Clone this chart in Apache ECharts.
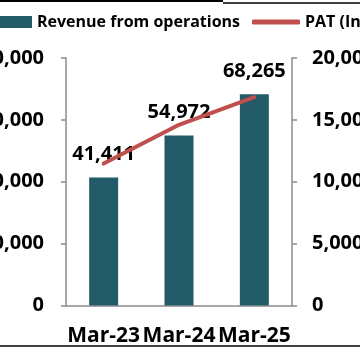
<!DOCTYPE html>
<html>
<head>
<meta charset="utf-8">
<script src="https://cdn.jsdelivr.net/npm/echarts@6/dist/echarts.min.js"></script>
<style>
	html, body { margin: 0; padding: 0; background: #fff; }
	#chart { width: 360px; height: 352px; }
</style>
</head>
<body>
<div id="chart"></div>
<script>
// ---------- DATA ----------
const categories = ['Mar-23', 'Mar-24', 'Mar-25'];
const revenue = [41411, 54972, 68265];
const pat = [11470, 14600, 16830];

const barColor = '#235a68';
const lineColor = '#c0504d';
const axisColor = '#8c8c8c';
const font = 'Open Sans';

function fmt(v) {
	return Number(v).toLocaleString('en-US');
}

var chart = echarts.init(document.getElementById('chart'));

let options = {
	animation: false,
	textStyle: { fontFamily: font },
	grid: {
		left: 66,
		right: 68,
		top: 58,
		height: 247.5,
		containLabel: false,
		outerBoundsMode: 'none'
	},
	legend: [
		{
			left: -13,
			top: 9,
			itemWidth: 40,
			itemHeight: 12,
			data: [{ name: 'Revenue from operations', icon: 'rect' }],
			textStyle: { fontFamily: font, fontWeight: 'bold', fontSize: 16, color: '#000' }
		},
		{
			left: 247,
			top: 9,
			itemWidth: 48,
			itemHeight: 5,
			data: [{ name: 'PAT (In Cr)', icon: 'roundRect' }],
			textStyle: { fontFamily: font, fontWeight: 'bold', fontSize: 16, color: '#000' }
		}
	],
	xAxis: {
		type: 'category',
		data: categories,
		axisLine: { lineStyle: { color: axisColor, width: 1.5 } },
		axisTick: { length: 6, lineStyle: { color: axisColor, width: 1.5 } },
		axisLabel: {
			interval: 0,
			hideOverlap: false,
			margin: 20,
			fontFamily: font,
			fontWeight: 'bold',
			fontSize: 21,
			color: '#000'
		}
	},
	yAxis: [
		{
			type: 'value',
			min: 0,
			max: 80000,
			interval: 20000,
			splitLine: { show: false },
			axisLine: { show: true, lineStyle: { color: axisColor, width: 1.5 } },
			axisTick: { show: true, length: 5, lineStyle: { color: axisColor, width: 1.5 } },
			axisLabel: {
				margin: 22,
				formatter: fmt,
				fontFamily: font,
				fontWeight: 'bold',
				fontSize: 20,
				color: '#000'
			}
		},
		{
			type: 'value',
			min: 0,
			max: 20000,
			interval: 5000,
			splitLine: { show: false },
			axisLine: { show: true, lineStyle: { color: axisColor, width: 1.5 } },
			axisTick: { show: true, length: 5, lineStyle: { color: axisColor, width: 1.5 } },
			axisLabel: {
				margin: 20,
				formatter: fmt,
				fontFamily: font,
				fontWeight: 'bold',
				fontSize: 20,
				color: '#000'
			}
		}
	],
	series: [
		{
			name: 'Revenue from operations',
			type: 'bar',
			barWidth: 29,
			yAxisIndex: 0,
			itemStyle: { color: barColor },
			label: {
				show: true,
				position: 'top',
				distance: 13,
				formatter: function (p) { return fmt(p.value); },
				fontFamily: font,
				fontWeight: 'bold',
				fontSize: 20,
				color: '#000'
			},
			data: revenue
		},
		{
			name: 'PAT (In Cr)',
			type: 'line',
			yAxisIndex: 1,
			z: 5,
			symbol: 'none',
			lineStyle: { color: lineColor, width: 4, cap: 'round' },
			itemStyle: { color: lineColor },
			data: pat
		}
	],
	graphic: [
		{ type: 'line', shape: { x1: 0, y1: 1, x2: 223, y2: 1 }, style: { stroke: '#000', lineWidth: 2 } },
		{ type: 'line', shape: { x1: 223, y1: 3, x2: 360, y2: 3 }, style: { stroke: '#000', lineWidth: 1.5 } },
		{ type: 'line', shape: { x1: 0, y1: 346, x2: 360, y2: 346 }, style: { stroke: '#000', lineWidth: 1.5 } }
	]
};

chart.setOption(options);
</script>
</body>
</html>
